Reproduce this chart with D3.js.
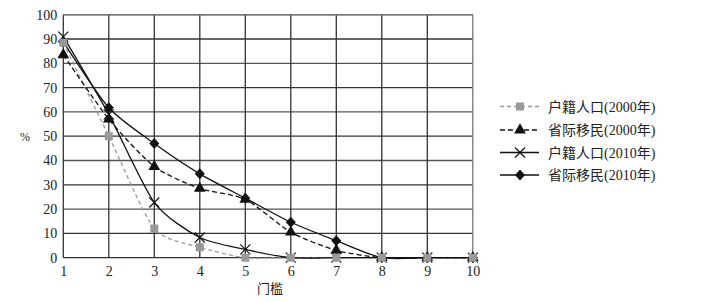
<!DOCTYPE html>
<html><head><meta charset="utf-8">
<script src="https://cdn.jsdelivr.net/npm/d3@7"></script>
<style>body{margin:0;background:#fff}svg{display:block}</style>
</head><body><svg id="c" width="702" height="302"></svg>
<script>
const thresholds = [1,2,3,4,5,6,7,8,9,10];
const yTicks = [0,10,20,30,40,50,60,70,80,90,100];
const seriesNames = ["户籍人口(2000年)","省际移民(2000年)","户籍人口(2010年)","省际移民(2010年)"];
const hukou2000 = [88.5,50,12,4.3,0,0,0,0,0,0];
const migrant2000 = [83.5,57,37.5,28.5,24,10.5,3,0,0,0];
const hukou2010 = [91,59,22.7,8.3,3.4,0,0,0,0,0];
const migrant2010 = [88.8,61.7,47,34.5,24.5,14.6,7,0,0,0];
const xTitle = "门槛";
const yTitle = "%";

const svg = d3.select("#c");
const L=63.3, R=472.8, T=14.7, B=257.7;
const x = d3.scaleLinear().domain([1,10]).range([L,R]);
const y = d3.scaleLinear().domain([0,100]).range([B,T]);
const numFont = "Liberation Serif, DejaVu Serif, serif";
const mixFont = "Liberation Serif, Noto Sans CJK SC, serif";

// grid
const g = svg.append("g");
g.selectAll(".h").data(yTicks).enter().append("line")
  .attr("x1",L).attr("x2",R).attr("y1",d=>y(d)).attr("y2",d=>y(d))
  .attr("stroke",d=>(d%20===0&&d>0&&d<100)?"#555":"#333").attr("stroke-width",1.3);
g.selectAll(".v").data(thresholds).enter().append("line")
  .attr("y1",T).attr("y2",B).attr("x1",d=>x(d)).attr("x2",d=>x(d))
  .attr("stroke",d=>d===10?"#777":"#333").attr("stroke-width",1.3);
g.append("line").attr("x1",L).attr("x2",R).attr("y1",T).attr("y2",T).attr("stroke","#777").attr("stroke-width",1.5);

// axes labels via d3 axes
const ya = svg.append("g").attr("transform",`translate(${L},0)`)
  .call(d3.axisLeft(y).tickValues(yTicks).tickSize(0).tickPadding(6));
ya.select(".domain").remove();
ya.attr("font-family",numFont).attr("font-size",14);
ya.selectAll("text").attr("fill","#222");
const xa = svg.append("g").attr("transform",`translate(0,${B})`)
  .call(d3.axisBottom(x).tickValues(thresholds).tickFormat(d3.format("d")).tickSize(0).tickPadding(8));
xa.select(".domain").remove();
xa.attr("font-family",numFont).attr("font-size",14);
xa.selectAll("text").attr("fill","#222");

svg.append("text").attr("x",270).attr("y",293).attr("text-anchor","middle")
  .attr("font-family",mixFont).attr("font-size",13).attr("fill","#222").text(xTitle);
svg.append("text").attr("x",25).attr("y",141).attr("text-anchor","middle")
  .attr("font-family",numFont).attr("font-size",12).attr("fill","#222").text(yTitle);

const diamond = "M0,-5.5L5,0L0,5.5L-5,0Z";
const styles = [
  {data:hukou2000, color:"#999", dash:"4,3", sym:d3.symbol().type(d3.symbolSquare).size(64)(), mcolor:"#999"},
  {data:migrant2000, color:"#111", dash:"5,3", sym:d3.symbol().type(d3.symbolTriangle).size(60)(), mcolor:"#111"},
  {data:hukou2010, color:"#111", dash:null, sym:"x", mcolor:"#111"},
  {data:migrant2010, color:"#111", dash:null, sym:diamond, mcolor:"#111"}
];
const line = d3.line().x((d,i)=>x(thresholds[i])).y(d=>y(d)).curve(d3.curveCardinal.tension(0.3));

function marker(sel, s){
  if(s.sym==="x"){
    sel.append("path").attr("d","M-5,-5L5,5M-5,5L5,-5").attr("stroke",s.mcolor).attr("stroke-width",1.2).attr("fill","none");
  } else {
    sel.append("path").attr("d",s.sym).attr("fill",s.mcolor);
  }
}
styles.forEach(s=>{
  svg.append("path").attr("d",line(s.data)).attr("fill","none").attr("stroke",s.color)
    .attr("stroke-width",1.3).attr("stroke-dasharray",s.dash);
});
[3,2,1,0].forEach(k=>{
  const s=styles[k];
  s.data.forEach((v,i)=>{
    const m=svg.append("g").attr("transform",`translate(${x(thresholds[i])},${y(v)})`);
    marker(m,s);
  });
});

// legend
const ly=[106.5,130,152.5,175];
styles.forEach((s,k)=>{
  svg.append("line").attr("x1",500).attr("x2",539).attr("y1",ly[k]).attr("y2",ly[k])
    .attr("stroke",s.color).attr("stroke-width",1.3).attr("stroke-dasharray",s.dash);
  const m=svg.append("g").attr("transform",`translate(520,${ly[k]})`);
  marker(m,s);
  svg.append("text").attr("x",548).attr("y",ly[k]+5).attr("font-family",mixFont)
    .attr("font-size",14).attr("fill","#222").text(seriesNames[k]);
});
</script></body></html>
